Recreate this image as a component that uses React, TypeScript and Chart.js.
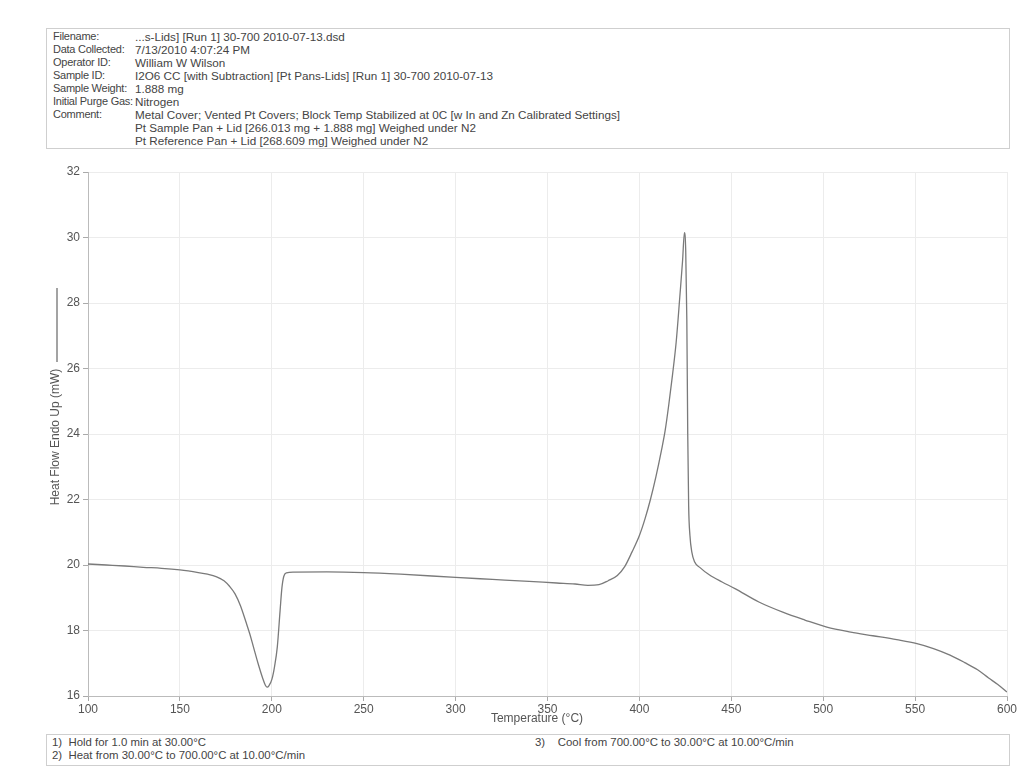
import React, { useEffect, useRef } from "react";
import { Chart, registerables } from "chart.js";

Chart.register(...registerables);

const temperature: number[] = [
  100, 110, 120, 130, 140, 150, 160, 165, 170, 174, 177, 180, 183, 186, 188, 190,
  192.5, 195, 196.5, 197.5, 198.5, 200, 201.5, 203, 204.5, 205.5, 206.5, 208, 212,
  230, 250, 270, 300, 320, 340, 355, 365, 372, 378, 383, 388, 392, 396, 400, 403,
  406, 409, 412, 414, 416, 418, 420, 422, 423.5, 424.5, 425.2, 425.8, 426.3, 426.8,
  427.5, 428.5, 430, 433, 438, 445, 452, 465, 478, 490, 502, 515, 527, 540, 551,
  560, 569, 577, 584, 590, 595, 600,
];

const heatFlow: number[] = [
  20.03, 20.0, 19.97, 19.93, 19.9, 19.85, 19.77, 19.72, 19.64, 19.52, 19.35, 19.12,
  18.75, 18.25, 17.9, 17.5, 17.0, 16.55, 16.33, 16.27, 16.32, 16.5, 16.9, 17.5, 18.6,
  19.3, 19.65, 19.76, 19.78, 19.79, 19.77, 19.72, 19.62, 19.56, 19.5, 19.45, 19.42,
  19.38, 19.4, 19.52, 19.68, 19.95, 20.4, 20.9, 21.4, 22.0, 22.7, 23.5, 24.1, 24.9,
  25.8, 26.8, 28.2, 29.3, 30.15, 29.6, 27.5, 24.0, 21.8, 20.9, 20.4, 20.1, 19.92,
  19.7, 19.48, 19.28, 18.87, 18.56, 18.32, 18.1, 17.95, 17.84, 17.72, 17.6, 17.45,
  17.25, 17.02, 16.8, 16.55, 16.35, 16.12,
];

const xTicks: number[] = [100, 150, 200, 250, 300, 350, 400, 450, 500, 550, 600];
const yTicks: number[] = [16, 18, 20, 22, 24, 26, 28, 30, 32];

const headerLabels: string[] = [
  "Filename:",
  "Data Collected:",
  "Operator ID:",
  "Sample ID:",
  "Sample Weight:",
  "Initial Purge Gas:",
  "Comment:",
  "",
  "",
];
const headerValues: string[] = [
  "...s-Lids] [Run 1] 30-700 2010-07-13.dsd",
  "7/13/2010 4:07:24 PM",
  "William W Wilson",
  "I2O6 CC [with Subtraction] [Pt Pans-Lids] [Run 1] 30-700 2010-07-13",
  "1.888 mg",
  "Nitrogen",
  "Metal Cover; Vented Pt Covers; Block Temp Stabilized at 0C [w In and Zn Calibrated Settings]",
  "Pt Sample Pan + Lid [266.013 mg + 1.888 mg] Weighed under N2",
  "Pt Reference Pan + Lid [268.609 mg] Weighed under N2",
];
const methodSteps: string[] = [
  "1)\u00a0 Hold for 1.0 min at 30.00\u00b0C",
  "2)\u00a0 Heat from 30.00\u00b0C to 700.00\u00b0C at 10.00\u00b0C/min",
  "3)\u00a0\u00a0\u00a0 Cool from 700.00\u00b0C to 30.00\u00b0C at 10.00\u00b0C/min",
];
const xTitle = "Temperature (\u00b0C)";
const yTitle = "Heat Flow Endo Up (mW)";

const FONT = '"Liberation Sans", Arial, sans-serif';
const CANVAS_TOP = 152;

export default function App() {
  const ref = useRef<HTMLCanvasElement | null>(null);

  useEffect(() => {
    if (!ref.current) return;
    const titlesPlugin = {
      id: "titlesPlugin",
      afterDraw(chart: any) {
        const ctx = chart.ctx as CanvasRenderingContext2D;
        const area = chart.chartArea;
        ctx.save();
        ctx.fillStyle = "#555";
        ctx.font = `12px ${FONT}`;
        ctx.textAlign = "center";
        ctx.textBaseline = "middle";
        ctx.fillText(xTitle, 537, 567);
        const cy = (area.top + area.bottom) / 2 + 3;
        ctx.translate(56, cy);
        ctx.rotate(-Math.PI / 2);
        ctx.fillText(yTitle, 0, 0);
        ctx.restore();
        ctx.save();
        ctx.strokeStyle = "#666";
        ctx.lineWidth = 1.2;
        ctx.beginPath();
        ctx.moveTo(57, 288 - CANVAS_TOP);
        ctx.lineTo(57, 362 - CANVAS_TOP);
        ctx.stroke();
        ctx.restore();
      },
    };

    const chart = new Chart(ref.current, {
      type: "scatter",
      data: {
        datasets: [
          {
            data: temperature.map((t, i) => ({ x: t, y: heatFlow[i] })),
            showLine: true,
            borderColor: "#7a7a7a",
            borderWidth: 1.3,
            pointRadius: 0,
            cubicInterpolationMode: "monotone",
            fill: false,
          },
        ],
      },
      options: {
        animation: false,
        responsive: false,
        maintainAspectRatio: false,
        layout: { padding: { top: 20, right: 19, left: 0, bottom: 0 } },
        plugins: {
          legend: { display: false },
          tooltip: { enabled: false },
        },
        scales: {
          x: {
            type: "linear",
            min: 100,
            max: 600,
            afterBuildTicks: (scale: any) => {
              scale.ticks = xTicks.map((v) => ({ value: v }));
            },
            afterFit: (scale: any) => {
              scale.height = 36;
            },
            ticks: {
              color: "#555",
              font: { family: FONT, size: 12 },
              padding: 1,
              maxRotation: 0,
            },
            grid: {
              color: "#ececec",
              tickColor: "#aaa",
              tickLength: 5,
            },
            border: { color: "#bbb" },
          },
          y: {
            type: "linear",
            min: 16,
            max: 32,
            afterBuildTicks: (scale: any) => {
              scale.ticks = yTicks.map((v) => ({ value: v }));
            },
            afterFit: (scale: any) => {
              scale.width = 88;
            },
            ticks: {
              color: "#555",
              font: { family: FONT, size: 12 },
              padding: 3,
            },
            grid: {
              color: "#ececec",
              tickColor: "#aaa",
              tickLength: 5,
            },
            border: { color: "#bbb" },
          },
        },
      },
      plugins: [titlesPlugin],
    });
    return () => chart.destroy();
  }, []);

  const baseText: React.CSSProperties = {
    fontFamily: FONT,
    color: "#444",
    whiteSpace: "nowrap",
    position: "absolute",
    lineHeight: "13px",
  };

  return (
    <div style={{ position: "absolute", left: 0, top: 0, width: 1026, height: 780, background: "#fff" }}>
      <div
        style={{
          position: "absolute",
          left: 46,
          top: 28,
          width: 964,
          height: 121,
          border: "1px solid #cfcfcf",
          boxSizing: "border-box",
        }}
      />
      {headerLabels.map((label, i) => (
        <div
          key={"l" + i}
          style={{ ...baseText, fontSize: 11, letterSpacing: "-0.25px", left: 53, top: 30 + i * 13 }}
        >
          {label}
        </div>
      ))}
      {headerValues.map((val, i) => (
        <div key={"v" + i} style={{ ...baseText, fontSize: 11.7, left: 135, top: 30 + i * 13 }}>
          {val}
        </div>
      ))}
      <canvas
        ref={ref}
        width={1026}
        height={580}
        style={{ position: "absolute", left: 0, top: CANVAS_TOP, width: 1026, height: 580 }}
      />
      <div
        style={{
          position: "absolute",
          left: 46,
          top: 734,
          width: 964,
          height: 32,
          border: "1px solid #cfcfcf",
          boxSizing: "border-box",
        }}
      />
      <div style={{ ...baseText, fontSize: 11.4, left: 52, top: 736 }}>{methodSteps[0]}</div>
      <div style={{ ...baseText, fontSize: 11.4, left: 52, top: 749 }}>{methodSteps[1]}</div>
      <div style={{ ...baseText, fontSize: 11.4, left: 535, top: 736 }}>{methodSteps[2]}</div>
    </div>
  );
}
